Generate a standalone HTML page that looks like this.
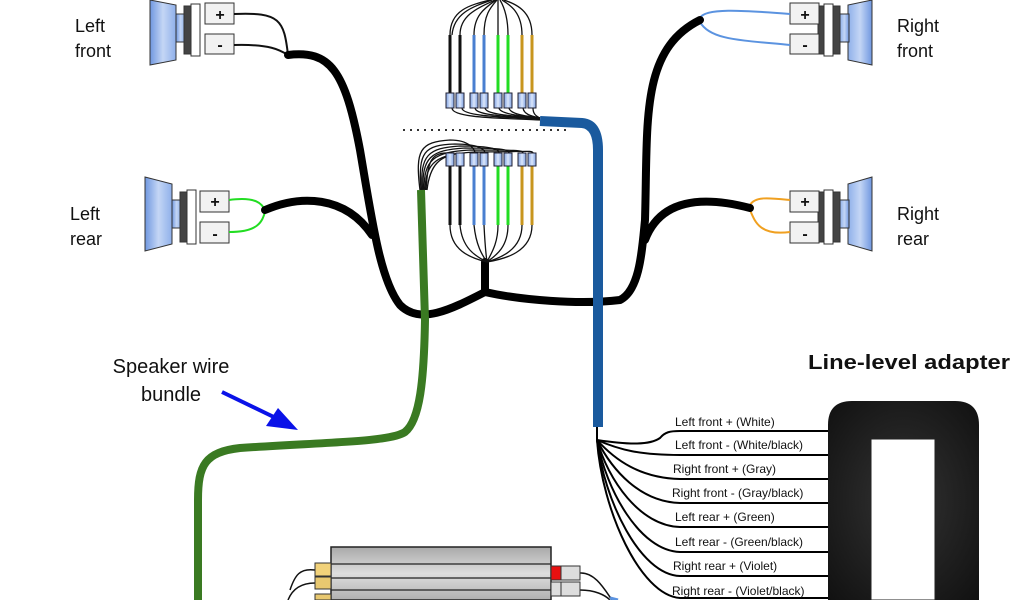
<!DOCTYPE html>
<html><head><meta charset="utf-8"><style>
html,body{margin:0;padding:0;background:#fff;width:1024px;height:600px;overflow:hidden;}
svg{display:block}
text{font-family:"Liberation Sans",sans-serif;}
</style></head><body>
<svg width="1024" height="600" viewBox="0 0 1024 600" xmlns="http://www.w3.org/2000/svg">
<defs>
<linearGradient id="cone" x1="0" x2="1"><stop offset="0" stop-color="#6f97e0"/><stop offset="0.5" stop-color="#c4d6f5"/><stop offset="1" stop-color="#8fb0ea"/></linearGradient>
<linearGradient id="coneR" x1="1" x2="0"><stop offset="0" stop-color="#6f97e0"/><stop offset="0.5" stop-color="#c4d6f5"/><stop offset="1" stop-color="#8fb0ea"/></linearGradient>
<linearGradient id="amp" x1="0" y1="0" x2="0" y2="1"><stop offset="0" stop-color="#a9a9a9"/><stop offset="0.5" stop-color="#dedede"/><stop offset="1" stop-color="#b0b0b0"/></linearGradient>
<linearGradient id="box" x1="0" x2="1"><stop offset="0" stop-color="#7fa2e4"/><stop offset="0.5" stop-color="#dbe6fa"/><stop offset="1" stop-color="#7fa2e4"/></linearGradient>
<radialGradient id="adp" cx="0.5" cy="0.5" r="0.7"><stop offset="0" stop-color="#333"/><stop offset="1" stop-color="#111"/></radialGradient>
</defs>

<g font-size="18" fill="#111" text-anchor="middle">
<text x="90" y="32">Left</text><text x="93" y="57">front</text>
<text x="85" y="220">Left</text><text x="86" y="245">rear</text>
<text x="918" y="32">Right</text><text x="915" y="57">front</text>
<text x="918" y="220">Right</text><text x="913" y="245">rear</text>
<text x="171" y="373" font-size="20">Speaker wire</text><text x="171" y="401" font-size="20">bundle</text>
</g>
<text x="808" y="369" font-size="20" font-weight="bold" fill="#111" textLength="202" lengthAdjust="spacingAndGlyphs">Line-level adapter</text>

<line x1="222" y1="392" x2="280" y2="420" stroke="#0a12e8" stroke-width="4"/>
<polygon points="298,430 266,426 278,408" fill="#0a12e8"/>

<g stroke="#333" stroke-width="1">
<polygon points="150,0 176,5 176,60 150,65" fill="url(#cone)"/>
<rect x="176" y="14" width="9" height="28" fill="url(#cone)"/>
<rect x="184" y="6" width="16" height="48" fill="#444"/>
<rect x="191" y="4" width="9" height="52" fill="#fff"/>
<rect x="205" y="3" width="29" height="21" fill="#f2f2f2"/>
<rect x="205" y="34" width="29" height="20" fill="#f2f2f2"/>
<polygon points="145,177 172,184 172,244 145,251" fill="url(#cone)"/>
<rect x="172" y="200" width="9" height="28" fill="url(#cone)"/>
<rect x="180" y="192" width="16" height="50" fill="#444"/>
<rect x="187" y="190" width="9" height="54" fill="#fff"/>
<rect x="200" y="191" width="29" height="21" fill="#f2f2f2"/>
<rect x="200" y="222" width="29" height="21" fill="#f2f2f2"/>
<polygon points="872,0 848,5 848,60 872,65" fill="url(#coneR)"/>
<rect x="840" y="14" width="9" height="28" fill="url(#coneR)"/>
<rect x="818" y="6" width="22" height="48" fill="#444"/>
<rect x="824" y="4" width="9" height="52" fill="#fff"/>
<rect x="790" y="3" width="29" height="21" fill="#f2f2f2"/>
<rect x="790" y="34" width="29" height="20" fill="#f2f2f2"/>
<polygon points="872,177 848,184 848,244 872,251" fill="url(#coneR)"/>
<rect x="840" y="200" width="9" height="28" fill="url(#coneR)"/>
<rect x="818" y="192" width="22" height="50" fill="#444"/>
<rect x="824" y="190" width="9" height="54" fill="#fff"/>
<rect x="790" y="191" width="29" height="21" fill="#f2f2f2"/>
<rect x="790" y="222" width="29" height="21" fill="#f2f2f2"/>
</g>
<g font-size="16" font-weight="bold" fill="#111" text-anchor="middle">
<text x="220" y="20">+</text><text x="220" y="50">-</text>
<text x="215" y="207">+</text><text x="215" y="239">-</text>
<text x="805" y="20">+</text><text x="805" y="50">-</text>
<text x="805" y="207">+</text><text x="805" y="239">-</text>
</g>

<g fill="none" stroke-width="2">
<path d="M234,14 C280,12 284,20 288,55" stroke="#111"/>
<path d="M234,45 C270,44 280,50 288,55" stroke="#111"/>
<path d="M229,200 C258,196 262,205 265,210" stroke="#22dd22"/>
<path d="M229,232 C258,232 262,222 265,212" stroke="#22dd22"/>
<path d="M790,14 C740,10 705,8 700,18" stroke="#5b93e0"/>
<path d="M790,45 C740,40 710,40 700,22" stroke="#5b93e0"/>
<path d="M790,200 C770,198 755,196 750,205" stroke="#f0a020"/>
<path d="M790,232 C760,236 755,222 750,210" stroke="#f0a020"/>
</g>

<g fill="none" stroke="#000" stroke-width="8" stroke-linecap="round">
<path d="M288,55 C330,50 345,70 360,150 C372,220 380,280 400,305 C420,325 450,310 485,292"/>
<path d="M265,210 C300,195 345,195 372,235"/>
<path d="M485,262 L485,292 C520,300 580,305 620,300 C640,290 642,250 645,220 C648,120 640,50 700,20"/>
<path d="M645,240 C660,200 700,195 750,208"/>
</g>

<g fill="none" stroke="#111" stroke-width="1.3">
<path d="M450,35 C450,10 470,5 490,0"/><path d="M452,35 C454,12 475,6 492,0"/>
<path d="M460,35 C460,15 478,8 495,0"/><path d="M474,35 C474,15 485,8 496,0"/>
<path d="M484,35 C484,15 490,8 497,0"/><path d="M498,35 C498,15 498,5 498,0"/>
<path d="M508,35 C508,15 503,5 500,0"/><path d="M522,35 C522,12 510,5 502,0"/>
<path d="M532,35 C532,10 515,4 504,0"/>
<path d="M452,108 C452,118 500,118 540,120"/><path d="M462,108 C462,116 500,117 540,119"/>
<path d="M475,108 C476,116 510,116 540,119"/><path d="M485,108 C486,115 515,116 540,118"/>
<path d="M499,108 C500,114 520,116 540,118"/><path d="M509,108 C510,114 525,116 540,118"/>
<path d="M523,108 C524,114 530,116 540,118"/><path d="M533,108 C533,114 536,116 540,118"/>
</g>
<g stroke-width="3" fill="none">
<path d="M450,35 V94 M460,35 V94" stroke="#111"/>
<path d="M474,35 V94 M484,35 V94" stroke="#4a7fd0"/>
<path d="M498,35 V94 M508,35 V94" stroke="#22dd22"/>
<path d="M522,35 V94 M532,35 V94" stroke="#c8961e"/>
</g>
<g fill="url(#box)" stroke="#223" stroke-width="1">
<rect x="446" y="93" width="8" height="15"/><rect x="456" y="93" width="8" height="15"/>
<rect x="470" y="93" width="8" height="15"/><rect x="480" y="93" width="8" height="15"/>
<rect x="494" y="93" width="8" height="15"/><rect x="504" y="93" width="8" height="15"/>
<rect x="518" y="93" width="8" height="15"/><rect x="528" y="93" width="8" height="15"/>
</g>

<line x1="403" y1="130" x2="570" y2="130" stroke="#333" stroke-width="2" stroke-dasharray="2,5"/>

<g fill="none" stroke="#111" stroke-width="1.3">
<path d="M420,190 C415,150 420,142 450,140 C470,140 475,150 475,153"/>
<path d="M421,190 C418,152 424,145 455,144 C480,144 485,150 485,153"/>
<path d="M422,190 C420,155 428,148 460,146 C495,146 499,150 499,153"/>
<path d="M423,190 C422,158 430,150 465,148 C505,148 509,150 509,153"/>
<path d="M424,190 C424,160 433,152 470,150 C515,150 523,150 523,153"/>
<path d="M425,190 C426,162 436,154 475,152 C525,152 533,150 533,153"/>
<path d="M426,190 C428,162 430,152 450,153"/><path d="M427,190 C430,164 440,156 460,153"/>
<path d="M450,225 C450,250 470,258 487,262"/><path d="M460,225 C462,248 475,256 487,262"/>
<path d="M474,225 C476,245 482,255 487,262"/><path d="M484,225 C485,245 486,255 487,262"/>
<path d="M498,225 C498,245 490,255 487,262"/><path d="M508,225 C508,248 495,256 487,262"/>
<path d="M522,225 C522,250 500,258 487,262"/><path d="M532,225 C532,252 505,259 487,262"/>
</g>
<g stroke-width="3" fill="none">
<path d="M450,165 V225 M460,165 V225" stroke="#111"/>
<path d="M474,165 V225 M484,165 V225" stroke="#4a7fd0"/>
<path d="M498,165 V225 M508,165 V225" stroke="#22dd22"/>
<path d="M522,165 V225 M532,165 V225" stroke="#c8961e"/>
</g>
<g fill="url(#box)" stroke="#223" stroke-width="1">
<rect x="446" y="153" width="8" height="13"/><rect x="456" y="153" width="8" height="13"/>
<rect x="470" y="153" width="8" height="13"/><rect x="480" y="153" width="8" height="13"/>
<rect x="494" y="153" width="8" height="13"/><rect x="504" y="153" width="8" height="13"/>
<rect x="518" y="153" width="8" height="13"/><rect x="528" y="153" width="8" height="13"/>
</g>

<path d="M421,190 L425,320 C424,380 420,420 405,432 C390,442 330,442 240,448 C205,452 198,465 198,500 L198,600" fill="none" stroke="#3a7a22" stroke-width="8"/>

<path d="M540,121 L582,123 C594,124 598,135 598,150 L598,427" fill="none" stroke="#1a5a9e" stroke-width="10"/>

<g fill="none" stroke="#000" stroke-width="2">
<path d="M597,427 L597,440"/>
<path d="M597,440 C630,445 650,445 660,438 C665,432 670,431 680,431 L830,431"/>
<path d="M597,440 C620,450 640,455 680,455 L830,455"/>
<path d="M597,440 C615,460 640,478 680,479 L830,479"/>
<path d="M597,440 C612,470 640,502 680,503 L830,503"/>
<path d="M597,440 C608,480 640,526 680,527 L830,527"/>
<path d="M597,440 C606,490 640,551 680,552 L830,552"/>
<path d="M597,440 C604,500 640,575 680,576 L830,576"/>
<path d="M597,440 C602,510 640,595 680,598 L830,598"/>
</g>
<g font-size="12" fill="#111">
<text x="675" y="426">Left front + (White)</text>
<text x="675" y="449">Left front - (White/black)</text>
<text x="673" y="473">Right front + (Gray)</text>
<text x="672" y="497">Right front - (Gray/black)</text>
<text x="675" y="521">Left rear + (Green)</text>
<text x="675" y="546">Left rear - (Green/black)</text>
<text x="673" y="570">Right rear + (Violet)</text>
<text x="672" y="595">Right rear - (Violet/black)</text>
</g>

<path d="M828,600 V425 Q828,401 852,401 H955 Q979,401 979,425 V600 Z" fill="url(#adp)"/>
<path d="M871,600 V439 H935 V600 Z" fill="#fff" stroke="#222"/>

<g fill="none" stroke="#111" stroke-width="1.5">
<path d="M315,570 C300,568 295,575 290,590"/><path d="M315,583 C300,583 292,590 288,600"/>
<path d="M580,573 C595,572 605,590 612,600"/><path d="M580,590 C595,590 605,595 610,600"/>
</g>
<path d="M331,600 V547 H551 V600 Z" fill="url(#amp)" stroke="#222" stroke-width="1.5"/>
<g stroke="#222" stroke-width="1.2"><line x1="331" y1="564" x2="551" y2="564"/><line x1="331" y1="578" x2="551" y2="578"/><line x1="331" y1="590" x2="551" y2="590"/></g>
<g stroke="#333" stroke-width="1">
<rect x="315" y="563" width="16" height="13" fill="#f2d27a"/>
<rect x="315" y="577" width="16" height="12" fill="#e8c870"/>
<path d="M315,600 V594 H331 V600 Z" fill="#e8c870"/>
<rect x="551" y="566" width="10" height="14" fill="#e81010"/>
<rect x="561" y="566" width="19" height="14" fill="#ddd"/>
<rect x="551" y="582" width="10" height="14" fill="#ddd"/>
<rect x="561" y="582" width="19" height="14" fill="#ddd"/>
</g>
<path d="M610,598 L618,600" stroke="#5b93e0" stroke-width="3"/>
</svg>
</body></html>
